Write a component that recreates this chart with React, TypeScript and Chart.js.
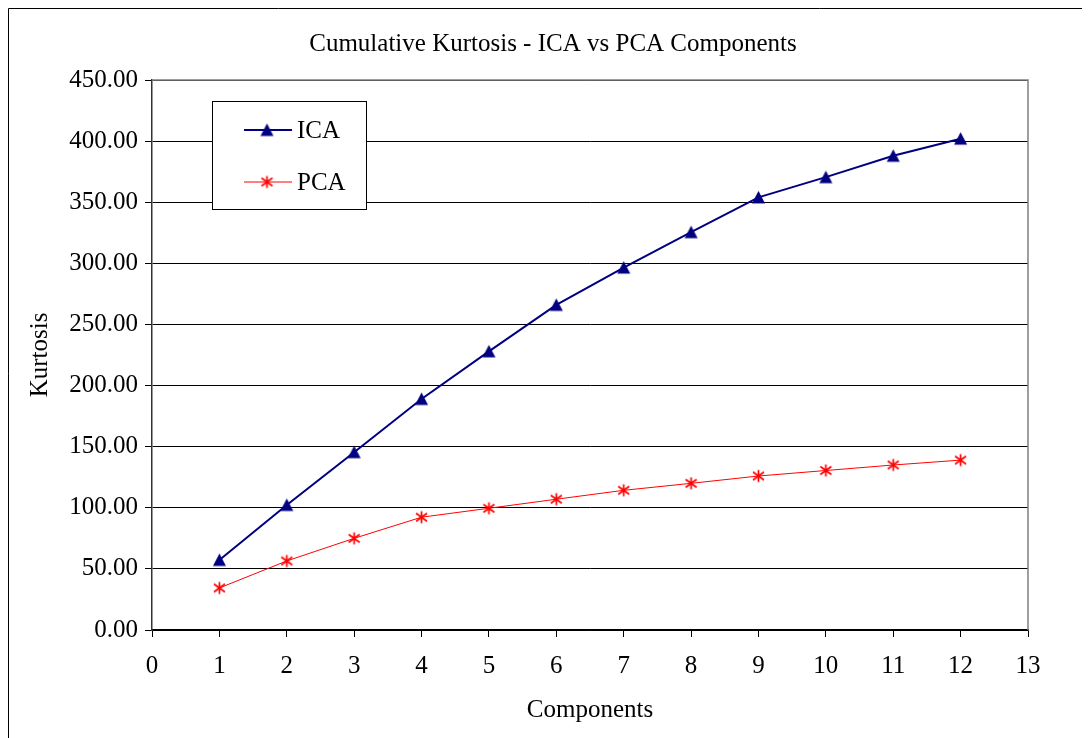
import React, { useEffect, useRef } from "react";
import { Chart, registerables } from "chart.js";

Chart.register(...registerables);

const components = [1, 2, 3, 4, 5, 6, 7, 8, 9, 10, 11, 12];
const icaValues = [57.3, 102.3, 145.5, 189, 228, 266, 296.5, 325.5, 354, 370.5, 388, 402];
const pcaValues = [34.4, 56.5, 75, 92.3, 99.6, 107, 114.3, 120, 126, 130.5, 135, 139];
const titleText = "Cumulative Kurtosis - ICA vs PCA Components";
const xTitle = "Components";
const yTitle = "Kurtosis";
const seriesNames = ["ICA", "PCA"];

const FONT = "'Liberation Serif', 'Times New Roman', serif";
const FS = 25;
const NAVY = "#000080";
const RED = "#FF0000";

function makeTriangle(): HTMLCanvasElement {
  const c = document.createElement("canvas");
  c.width = 15;
  c.height = 15;
  const g = c.getContext("2d")!;
  g.fillStyle = NAVY;
  g.beginPath();
  g.moveTo(7.5, 1);
  g.lineTo(14, 13.5);
  g.lineTo(1, 13.5);
  g.closePath();
  g.fill();
  return c;
}

function makeStar(): HTMLCanvasElement {
  const c = document.createElement("canvas");
  c.width = 15;
  c.height = 15;
  const g = c.getContext("2d")!;
  g.strokeStyle = RED;
  g.lineWidth = 1.7;
  g.beginPath();
  g.moveTo(7.5, 1.5);
  g.lineTo(7.5, 13.5);
  g.moveTo(2, 3.5);
  g.lineTo(13, 11.5);
  g.moveTo(13, 3.5);
  g.lineTo(2, 11.5);
  g.stroke();
  return c;
}

export default function App() {
  const ref = useRef<HTMLCanvasElement | null>(null);
  useEffect(() => {
    if (!ref.current) return;
    const tri = makeTriangle();
    const star = makeStar();
    const decor = {
      id: "decor",
      afterDraw(chart: any) {
        const ctx = chart.ctx as CanvasRenderingContext2D;
        const a = chart.chartArea;
        ctx.save();
        // outer border (bottom edge falls outside the view)
        ctx.strokeStyle = "#000";
        ctx.lineWidth = 1;
        ctx.beginPath();
        ctx.moveTo(0.5, chart.height);
        ctx.lineTo(0.5, 0.5);
        ctx.lineTo(chart.width - 0.5, 0.5);
        ctx.lineTo(chart.width - 0.5, chart.height);
        ctx.stroke();
        // title
        ctx.fillStyle = "#000";
        ctx.font = `${FS}px ${FONT}`;
        ctx.textAlign = "center";
        ctx.textBaseline = "middle";
        ctx.fillText(titleText, 545, 36);
        ctx.fillText(xTitle, (a.left + a.right) / 2, 702);
        ctx.save();
        ctx.translate(32, (a.top + a.bottom) / 2);
        ctx.rotate(-Math.PI / 2);
        ctx.fillText(yTitle, 0, 0);
        ctx.restore();
        // legend
        const lx = 204, ly = 93, lw = 154, lh = 108;
        ctx.fillStyle = "#fff";
        ctx.fillRect(lx, ly, lw, lh);
        ctx.strokeStyle = "#000";
        ctx.lineWidth = 1;
        ctx.strokeRect(lx + 0.5, ly + 0.5, lw, lh);
        const rows = [
          { y: 122, color: NAVY, width: 2, img: tri, name: seriesNames[0] },
          { y: 174, color: RED, width: 1, img: star, name: seriesNames[1] },
        ];
        ctx.textAlign = "left";
        for (const r of rows) {
          ctx.strokeStyle = r.color;
          ctx.lineWidth = r.width;
          ctx.beginPath();
          ctx.moveTo(236, r.y);
          ctx.lineTo(284, r.y);
          ctx.stroke();
          ctx.drawImage(r.img, 259 - 7.5, r.y - 7.5);
          ctx.fillStyle = "#000";
          ctx.fillText(r.name, 289, r.y + 1);
        }
        // plot border right/top grey
        ctx.strokeStyle = "#808080";
        ctx.lineWidth = 1.5;
        ctx.beginPath();
        ctx.moveTo(a.left, a.top);
        ctx.lineTo(a.right, a.top);
        ctx.lineTo(a.right, a.bottom);
        ctx.stroke();
        ctx.restore();
      },
    };
    const chart = new Chart(ref.current, {
      type: "line",
      data: {
        datasets: [
          {
            label: seriesNames[0],
            data: components.map((x, i) => ({ x, y: icaValues[i] })),
            borderColor: NAVY,
            backgroundColor: NAVY,
            borderWidth: 2,
            pointStyle: tri as any,
            pointRadius: 7,
          },
          {
            label: seriesNames[1],
            data: components.map((x, i) => ({ x, y: pcaValues[i] })),
            borderColor: RED,
            backgroundColor: RED,
            borderWidth: 1,
            pointStyle: star as any,
            pointRadius: 7,
          },
        ],
      },
      plugins: [decor],
      options: {
        responsive: false,
        animation: false,
        layout: { padding: { top: 72, right: 62, left: 0, bottom: 0 } },
        plugins: { legend: { display: false }, tooltip: { enabled: false }, title: { display: false } },
        scales: {
          x: {
            type: "linear",
            min: 0,
            max: 13,
            ticks: { stepSize: 1, color: "#000", font: { family: FONT, size: FS }, padding: 14, maxRotation: 0 },
            grid: { display: true, drawOnChartArea: false, drawTicks: true, tickLength: 7, color: "#000" },
            border: { display: true, color: "#000", width: 1.5 },
            afterFit(s: any) { s.height = 108; },
          },
          y: {
            min: 0,
            max: 450,
            ticks: {
              stepSize: 50,
              color: "#000",
              font: { family: FONT, size: FS },
              padding: 7,
              callback: (v: any) => Number(v).toFixed(2),
            },
            grid: { color: "#000", lineWidth: 1, tickLength: 7 },
            border: { display: true, color: "#333", width: 1.5 },
            afterFit(s: any) { s.width = 144; },
          },
        },
      },
    });
    return () => chart.destroy();
  }, []);
  return <canvas ref={ref} width={1082} height={730} style={{ display: "block" }} />;
}
